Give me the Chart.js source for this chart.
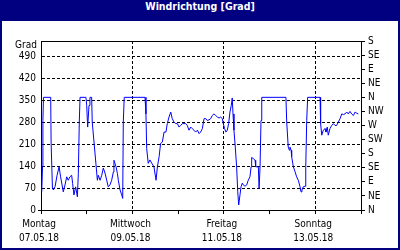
<!DOCTYPE html>
<html>
<head>
<meta charset="utf-8">
<title>Windrichtung</title>
<script src="https://cdn.jsdelivr.net/npm/chart.js@4"></script>
<style>
    html, body { margin: 0; padding: 0; background: #fff; }
    #panel { width: 400px; height: 250px; background: #000080; }
    #title { height: 21px; line-height: 19px; text-align: center; color: #fff;
             font: bold 10.5px 'DejaVu Sans Condensed', 'Liberation Sans', sans-serif; }
    #plot { margin-left: 2px; width: 396px; height: 227px; background: #fff; }
    canvas { display: block; }
</style>
</head>
<body>
<div id="panel">
    <div id="title">Windrichtung [Grad]</div>
    <div id="plot"><canvas id="windChart" width="396" height="227"></canvas></div>
</div>
<script>
// Hours since Monday 07.05.18 00:00 and wind direction in degrees
const hours = [
    0, 0.4, 0.8, 1.0, 1.3, 5.1, 5.3, 6.0, 6.5, 7.4, 8.4, 9.5, 10.3, 11.7, 12.6, 13.5, 14.3, 15.2,
    16.1, 16.6, 17.3, 18.2, 19.1, 19.6, 20.1, 20.5, 23.6, 24.0, 24.5, 25.2, 25.7, 26.6, 26.9,
    29.6, 30.1, 31.0, 31.9, 32.7, 33.6, 34.5, 35.3, 36.2, 37.1, 38.0, 38.3, 39.4, 40.1, 40.6,
    41.5, 42.4, 42.9, 43.2, 43.7, 54.6, 55.1, 55.5, 56.3, 57.2, 58.1, 59.3, 60.4, 61.1, 62.0,
    62.8, 63.7, 64.6, 65.6, 66.3, 67.2, 68.1, 68.9, 69.8, 70.7, 71.6, 72.5, 73.3, 74.2, 75.1,
    76.0, 76.8, 77.7, 78.6, 79.4, 80.3, 81.2, 82.1, 83.0, 83.8, 84.7, 85.6, 86.5, 87.3, 88.2,
    89.1, 89.9, 90.8, 91.7, 92.6, 93.5, 94.3, 95.2, 95.7, 96.4, 97.1, 97.8, 98.5, 99.2, 99.9,
    100.4, 100.8, 101.3, 102.0, 102.7, 103.3, 103.8, 104.5, 105.0, 105.7, 106.2, 107.1, 108.0,
    108.8, 109.7, 110.3, 110.6, 111.5, 112.4, 112.7, 114.1, 114.5, 115.0, 115.5, 115.9, 128.6,
    129.0, 129.8, 130.4, 130.7, 131.3, 131.6, 132.5, 133.4, 134.2, 135.1, 136.0, 136.5, 137.0,
    137.7, 138.6, 139.0, 139.5, 140.0, 146.5, 146.8, 147.4, 148.2, 149.1, 149.6, 150.3, 150.8,
    151.7, 152.6, 153.5, 154.4, 155.2, 156.1, 157.0, 157.9, 158.8, 159.6, 160.5, 161.3, 162.2,
    163.1, 164.0, 164.9, 165.8, 166.6
];
const windDeg = [
    58, 60, 138, 286, 360, 360, 217, 70, 64, 75, 110, 138, 106, 58, 80, 106, 95, 106,
    111, 85, 48, 74, 42, 117, 281, 360, 360, 334, 265, 334, 360, 360, 281,
    95, 111, 95, 111, 134, 118, 95, 74, 80, 95, 122, 159, 138, 117, 95,
    64, 48, 37, 281, 360, 360, 307, 196, 149, 160, 150, 138, 95, 138, 170,
    213, 217, 249, 249, 276, 297, 313, 292, 281, 276, 276, 265, 270, 276, 276,
    276, 270, 255, 265, 260, 255, 249, 255, 244, 249, 260, 292, 292, 286, 288,
    292, 302, 307, 302, 297, 294, 297, 292, 276, 260, 249, 255, 276, 313, 334,
    358, 307, 255, 201, 138, 58, 16, 50, 74, 86, 80, 76, 80,
    95, 106, 138, 168, 164, 159, 138, 138, 69, 138, 286, 360, 360,
    281, 201, 191, 201, 191, 170, 138, 122, 106, 95, 74, 58, 64,
    74, 76, 138, 286, 360, 360, 276, 239, 255, 260, 249, 265, 239,
    260, 270, 276, 270, 270, 281, 292, 307, 305, 307, 313, 307, 315,
    307, 302, 313, 309, 307
];

// Axis ticks and labels
const dayTicks = [0, 24, 48, 72, 96, 120, 144, 168];
const dayNames = ['Montag', '', 'Mittwoch', '', 'Freitag', '', 'Sonntag', ''];
const dayDates = ['07.05.18', '', '09.05.18', '', '11.05.18', '', '13.05.18', ''];
const gradTicks = [0, 70, 140, 210, 280, 350, 420, 490];
const compassTicks = [0, 45, 90, 135, 180, 225, 270, 315, 360, 405, 450, 495, 540];
const compassLabels = ['N', 'NE', 'E', 'SE', 'S', 'SW', 'W', 'NW', 'N', 'NE', 'E', 'SE', 'S'];

Chart.defaults.font.family = "'DejaVu Sans Condensed', 'Liberation Sans', sans-serif";
Chart.defaults.font.size = 10;
Chart.defaults.color = '#000';

const dash = [3, 2];

// frame on top of the plot area and the "Grad" unit label
const framePlugin = {
    id: 'frame',
    afterDraw(chart) {
        const { ctx, chartArea: a } = chart;
        ctx.save();
        ctx.strokeStyle = '#000';
        ctx.lineWidth = 1;
        ctx.beginPath();
        ctx.moveTo(a.left, a.top + 0.5);
        ctx.lineTo(a.right, a.top + 0.5);
        ctx.stroke();
        ctx.fillStyle = '#000';
        ctx.font = "10px 'DejaVu Sans Condensed', 'Liberation Sans', sans-serif";
        ctx.textAlign = 'right';
        ctx.textBaseline = 'middle';
        ctx.fillText('Grad', a.left - 4, a.top + 4);
        ctx.restore();
    }
};

new Chart(document.getElementById('windChart'), {
    type: 'line',
    data: {
        datasets: [{
            data: hours.map((h, i) => ({ x: h, y: windDeg[i] })),
            borderColor: '#0000ff',
            borderWidth: 1,
            pointRadius: 0,
            tension: 0,
            fill: false
        }]
    },
    options: {
        responsive: false,
        animation: false,
        layout: { padding: { top: 20, left: 0, right: 0, bottom: 0 } },
        plugins: { legend: { display: false }, tooltip: { enabled: false } },
        scales: {
            x: {
                type: 'linear',
                min: 0,
                max: 168,
                afterBuildTicks: scale => { scale.ticks = dayTicks.map(v => ({ value: v })); },
                afterFit: scale => { scale.height = 38; },
                ticks: {
                    autoSkip: false,
                    maxRotation: 0,
                    padding: 3,
                    labelOffset: -2,
                    font: { lineHeight: 1.4 },
                    callback: (value, index) => dayNames[index] ? [dayNames[index], dayDates[index]] : ''
                },
                grid: {
                    color: c => (c.tick && c.tick.value % 48 === 0 && c.tick.value > 0) ? '#000' : 'rgba(0,0,0,0)',
                    tickColor: '#000',
                    tickLength: 4,
                    tickBorderDash: []
                },
                border: { display: true, color: '#000', dash: dash }
            },
            y: {
                position: 'left',
                min: 0,
                max: 540,
                afterBuildTicks: scale => { scale.ticks = gradTicks.map(v => ({ value: v })); },
                afterFit: scale => { scale.width = 39; },
                ticks: { autoSkip: false, padding: 2 },
                grid: {
                    color: c => (c.tick && c.tick.value > 0) ? '#000' : 'rgba(0,0,0,0)',
                    tickColor: c => (c.tick && c.tick.value === 0) ? '#000' : 'rgba(0,0,0,0)',
                    tickLength: 3
                },
                border: { display: true, color: '#000', dash: dash }
            },
            y2: {
                position: 'right',
                min: 0,
                max: 540,
                afterBuildTicks: scale => { scale.ticks = compassTicks.map(v => ({ value: v })); },
                afterFit: scale => { scale.width = 37; },
                ticks: {
                    autoSkip: false,
                    padding: 3,
                    callback: value => compassLabels[compassTicks.indexOf(value)]
                },
                grid: { drawOnChartArea: false, tickColor: '#000', tickLength: 4 },
                border: { display: true, color: '#000' }
            }
        }
    },
    plugins: [framePlugin]
});
</script>
</body>
</html>
